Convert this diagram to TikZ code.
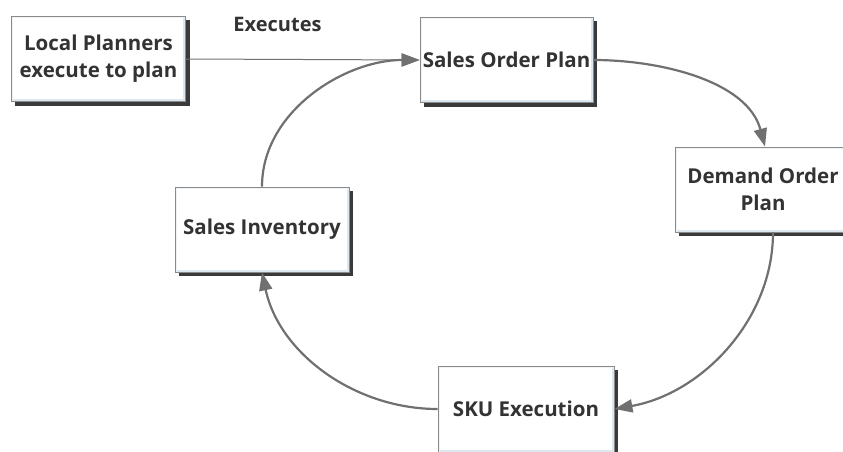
\documentclass[tikz,border=0pt]{standalone}
\usepackage{fontspec}
\setmainfont{Open Sans}[BoldFont={Open Sans Bold}]
\usetikzlibrary{arrows.meta,backgrounds}
\definecolor{txt}{HTML}{333333}
\definecolor{edge}{HTML}{707070}
\definecolor{bevel}{HTML}{DDE7F0}
\definecolor{frame}{HTML}{8A8A8A}
\definecolor{shade}{HTML}{3A3A3A}
\tikzset{
  box/.style={draw=frame, line width=0.9pt, fill=white, minimum width=#1, minimum height=85pt,
    inner sep=0pt, align=center, text=txt, font=\fontsize{20.5}{27}\selectfont\bfseries,
    path picture={
      \draw[bevel, line width=5pt]
        (path picture bounding box.south west) -- (path picture bounding box.south east)
        -- (path picture bounding box.north east);
      \draw[bevel!50!white, line width=3pt]
        (path picture bounding box.south west) -- (path picture bounding box.north west)
        -- (path picture bounding box.north east);
    }},
  box/.default=174pt,
  boxshadow/.style={fill=shade},
  flow/.style={draw=edge, line width=2.2pt, -{Triangle[length=18pt,width=13pt]}},
  thin/.style={draw=edge, line width=1pt, -{Triangle[length=18pt,width=13pt]}},
  lbl/.style={text=txt, font=\fontsize{20}{24}\selectfont\bfseries}
}
\begin{document}
\begin{tikzpicture}[x=1pt,y=-1pt]
\useasboundingbox (0,0) rectangle (843,452);
\node[box] (lp) at (98.5,59) {Local Planners\\execute to plan};
\node[box=173pt] (sop) at (506.5,60) {Sales Order Plan};
\node[box=176pt] (dop) at (763,189.5) {Demand Order\\Plan};
\node[box] (si) at (262,229.5) {Sales Inventory};
\node[box=176pt, minimum height=86pt] (sku) at (526,409) {SKU Execution};
\node[lbl] (ex) at (277.5,24) {Executes};
\begin{pgfonlayer}{background}
\foreach \n in {lp,sop,dop,si,sku}
  \fill[boxshadow] ([shift={(4,4)}]\n.north west) rectangle ([shift={(4,4)}]\n.south east);
\end{pgfonlayer}
\draw[thin] (lp.east) -- (sop.west);
\draw[flow] (si.north) to[out=90,in=180,looseness=0.95] (sop.west);
\draw[flow] (sop.east) to[out=0,in=105,looseness=0.9] ([xshift=2pt]dop.north);
\draw[flow] ([xshift=10pt]dop.south) to[out=-90,in=10,looseness=0.95] (sku.east);
\draw[flow] (sku.west) to[out=180,in=-78,looseness=0.95] (si.south);
\end{tikzpicture}
\end{document}
